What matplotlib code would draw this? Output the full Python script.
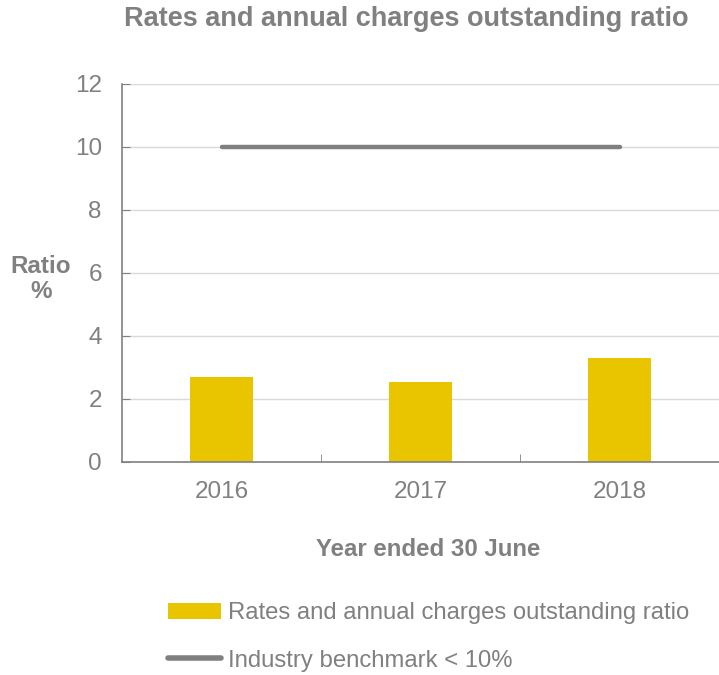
import matplotlib.pyplot as plt
from matplotlib.lines import Line2D
from matplotlib.patches import Patch

years = ["2016", "2017", "2018"]
outstanding_ratio = [2.7, 2.53, 3.31]
benchmark = [10, 10, 10]

GREY = "#808080"
YELLOW = "#E9C500"

plt.rcParams["font.family"] = ["Liberation Sans", "DejaVu Sans"]

fig = plt.figure(figsize=(7.19, 6.75), dpi=100)
ax = fig.add_axes([122 / 719, 1 - 462 / 675, 597 / 719, 378 / 675])

x = list(range(len(years)))
ax.bar(x, outstanding_ratio, width=0.32, color=YELLOW, zorder=2)
ax.plot(x, benchmark, color=GREY, linewidth=3.2, solid_capstyle="round", zorder=3)

ax.set_xlim(-0.5, 2.5)
ax.set_ylim(0, 12)
ax.set_yticks(range(0, 13, 2))
ax.set_xticks(x)
ax.set_xticklabels(years)
ax.set_xticks([0.5, 1.5], minor=True)
ax.tick_params(axis="x", which="major", length=0, pad=14, labelsize=17.5, labelcolor=GREY)
ax.tick_params(axis="x", which="minor", direction="in", length=6, color=GREY)
ax.tick_params(axis="y", direction="in", length=6, color=GREY, pad=14.5, labelsize=17.5, labelcolor=GREY)

ax.grid(axis="y", color="#D9D9D9", linewidth=1, zorder=0)
ax.set_axisbelow(True)
for side in ["top", "right"]:
    ax.spines[side].set_visible(False)
for side in ["left", "bottom"]:
    ax.spines[side].set_color(GREY)
    ax.spines[side].set_linewidth(1.2)

fig.text(406 / 719, 1 - 19 / 675, "Rates and annual charges outstanding ratio",
         ha="center", va="center", fontsize=19.5, fontweight="bold", color=GREY)
fig.text(428 / 719, 1 - 549 / 675, "Year ended 30 June",
         ha="center", va="center", fontsize=17.3, fontweight="bold", color=GREY)
fig.text(41 / 719, 1 - 279 / 675, "Ratio\n%", ha="center", va="center",
         fontsize=17.5, fontweight="bold", color=GREY, linespacing=1.15)

handles = [Patch(facecolor=YELLOW, edgecolor="none"),
           Line2D([0], [0], color=GREY, linewidth=4, solid_capstyle="round")]
labels = ["Rates and annual charges outstanding ratio", "Industry benchmark < 10%"]
leg = fig.legend(handles, labels, loc="upper left", bbox_to_anchor=(168 / 719, 1 - 602 / 675),
                 frameon=False, fontsize=17.2, handlelength=2.2, handleheight=0.65,
                 handletextpad=0.3, labelspacing=1.07, borderaxespad=0, borderpad=0)
for t in leg.get_texts():
    t.set_color(GREY)

fig.savefig("out.png", dpi=100)
